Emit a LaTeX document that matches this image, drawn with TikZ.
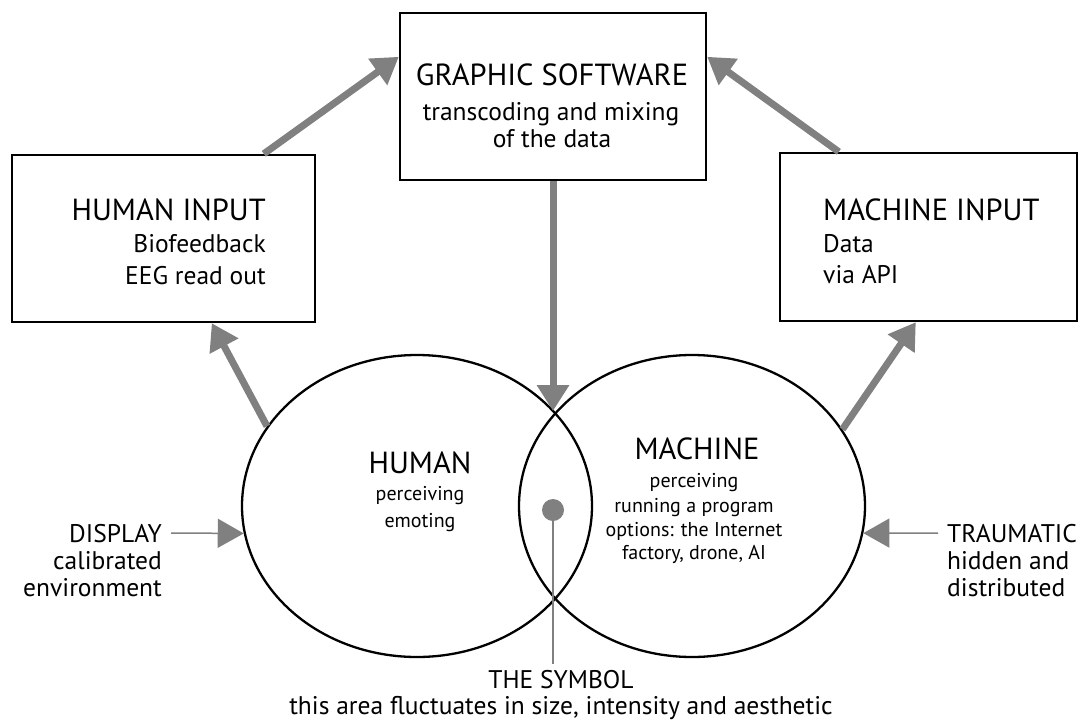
\documentclass[tikz,border=0pt]{standalone}
\usepackage{fontspec}
\setmainfont{PT Sans}
\usetikzlibrary{arrows.meta,shapes.geometric,calc}
\definecolor{arrowgray}{HTML}{808080}
\tikzset{
  boxnode/.style={draw=black, line width=2.4pt, rectangle, inner sep=0pt},
  ellnode/.style={draw=black, line width=2.3pt, ellipse, inner sep=0pt},
  bigarrow/.style={draw=arrowgray, line width=7pt, -{Triangle[width=31pt,length=26pt]}, arrowgray},
  thinarrow/.style={draw=arrowgray, line width=1.5pt, -{Triangle[width=29pt,length=26pt]}, arrowgray},
  headtext/.style={font=\fontsize{30.5}{33}\selectfont, inner sep=0pt},
  bodytext/.style={font=\fontsize{25.5}{29}\selectfont, inner sep=0pt},
  smalltext/.style={font=\fontsize{20}{23}\selectfont, inner sep=0pt},
}
\begin{document}
\begin{tikzpicture}[x=1pt,y=-1pt]
\useasboundingbox (0,0) rectangle (1081,720);
% boxes
\node[boxnode, minimum width=306pt, minimum height=167pt] (gs) at (553,96.5) {};
\node[boxnode, minimum width=303pt, minimum height=167pt] (hi) at (163.5,238.5) {};
\node[boxnode, minimum width=297pt, minimum height=168pt] (mi) at (928.5,237) {};
% ellipses
\node[ellnode, minimum width=350pt, minimum height=302pt] (hum) at (417,506) {};
\node[ellnode, minimum width=346pt, minimum height=302pt] (mac) at (692,506) {};
\coordinate (topx) at (553,411);
% box texts
\node[headtext, anchor=base] (gsT) at (552,85) {GRAPHIC SOFTWARE};
\node[bodytext, anchor=base] (gsA) at (551,120) {transcoding and mixing};
\node[bodytext, anchor=base] (gsB) at (552,147) {of the data};
\node[headtext, anchor=base east] (hiT) at (266,220) {HUMAN INPUT};
\node[bodytext, anchor=base east] (hiA) at (266,252) {Biofeedback};
\node[bodytext, anchor=base east] (hiB) at (266,284) {EEG read out};
\node[headtext, anchor=base west] (miT) at (823,220) {MACHINE INPUT};
\node[bodytext, anchor=base west] (miA) at (823,252) {Data};
\node[bodytext, anchor=base west] (miB) at (823,283) {via API};
% ellipse texts
\node[headtext, anchor=base] (humT) at (420,473) {HUMAN};
\node[smalltext, anchor=base] (humA) at (420,500) {perceiving};
\node[smalltext, anchor=base] (humB) at (420,527) {emoting};
\node[headtext, anchor=base] (macT) at (697,459) {MACHINE};
\node[smalltext, anchor=base] (macA) at (694,487) {perceiving};
\node[smalltext, anchor=base] (macB) at (694,512) {running a program};
\node[smalltext, anchor=base] (macC) at (694,536) {options: the Internet};
\node[smalltext, anchor=base] (macD) at (694,559) {factory, drone, AI};
% side texts
\node[bodytext, anchor=base east] (d1) at (162,542) {DISPLAY};
\node[bodytext, anchor=base east] (d2) at (162,569) {calibrated};
\node[bodytext, anchor=base east] (d3) at (162,596) {environment};
\node[bodytext, anchor=base west] (t1) at (947,542) {TRAUMATIC};
\node[bodytext, anchor=base west] (t2) at (947,569) {hidden and};
\node[bodytext, anchor=base west] (t3) at (947,596) {distributed};
% symbol
\node[circle, fill=arrowgray, minimum size=22pt, inner sep=0pt] (dot) at (553,510) {};
\node[bodytext, anchor=base] (sym1) at (561,688) {THE SYMBOL};
\node[bodytext, anchor=base] (sym2) at (561,714) {this area fluctuates in size, intensity and aesthetic};
\draw[arrowgray, line width=1.5pt] (dot.center) -- ($(dot |- sym1.north)+(0,-6)$);
% arrows
\draw[bigarrow] ($(hi.north west)+(253,0)$) -- ($(gs.north west)+(0,45)$);
\draw[bigarrow] ($(mi.north west)+(60,0)$) -- ($(gs.north east)+(0,45)$);
\draw[bigarrow] (gs.south) -- (topx);
\draw[bigarrow] (hum.152) -- ($(hi.south west)+(201,0)$);
\draw[bigarrow] (mac.27) -- ($(mi.south west)+(137,0)$);
\draw[thinarrow] ($(d1.base east)+(9,-9)$) -- (hum.189);
\draw[thinarrow] ($(t1.base west)+(-9,-9)$) -- (mac.351);
\end{tikzpicture}
\end{document}
